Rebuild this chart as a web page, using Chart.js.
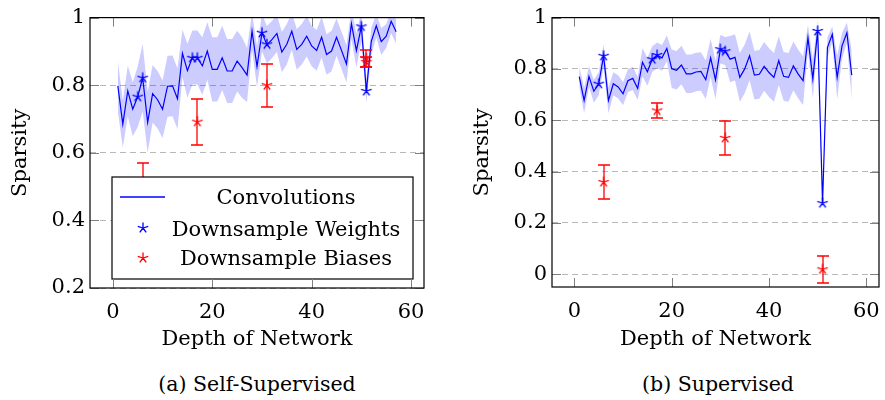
<!DOCTYPE html>
<html>
<head>
<meta charset="utf-8">
<script src="https://cdn.jsdelivr.net/npm/chart.js@4.4.1/dist/chart.umd.min.js"></script>
<style>
  body { margin: 0; background: #fff; width: 885px; height: 400px; position: relative; overflow: hidden; font-family: 'DejaVu Serif', serif; }
  canvas { position: absolute; top: 0; }
  #chartA { left: 0; }
  #chartB { left: 442px; }
  .caption { position: absolute; top: 372px; width: 240px; font-size: 20.5px; line-height: 24px; text-align: center; color: #000; }
</style>
</head>
<body>
<canvas id="chartA" width="442" height="360"></canvas>
<canvas id="chartB" width="443" height="360"></canvas>
<div class="caption" style="left:137px">(a) Self-Supervised</div>
<div class="caption" style="left:598px">(b) Supervised</div>
<script>
// layer index along the network
const depth = [1,2,3,4,5,6,7,8,9,10,11,12,13,14,15,16,17,18,19,20,21,22,23,24,25,26,27,28,29,30,
  31,32,33,34,35,36,37,38,39,40,41,42,43,44,45,46,47,48,49,50,51,52,53,54,55,56,57];

// (a) self-supervised: convolution sparsity and its spread
const convSelf = [0.798,0.685,0.783,0.729,0.766,0.822,0.690,0.775,0.757,0.729,0.797,0.798,0.760,0.894,0.843,
  0.882,0.882,0.857,0.901,0.847,0.847,0.881,0.842,0.842,0.871,0.852,0.830,0.960,0.855,0.955,
  0.920,0.935,0.953,0.898,0.921,0.960,0.906,0.921,0.945,0.916,0.903,0.942,0.891,0.901,0.942,
  0.903,0.863,0.982,0.902,0.974,0.783,0.930,0.976,0.929,0.945,0.989,0.958];
const spreadSelf = [0.075,0.07,0.075,0.08,0.09,0.1,0.09,0.085,0.085,0.085,0.09,0.09,0.09,0.07,0.08,
  0.08,0.08,0.085,0.085,0.095,0.095,0.095,0.095,0.095,0.09,0.09,0.08,0.055,0.06,0.055,
  0.055,0.055,0.055,0.06,0.06,0.055,0.06,0.06,0.06,0.06,0.06,0.06,0.06,0.06,0.055,
  0.055,0.055,0.045,0.05,0.045,0.035,0.04,0.035,0.04,0.035,0.035,0.035];

// (b) supervised
const convSup = [0.770,0.677,0.770,0.713,0.742,0.851,0.677,0.742,0.730,0.703,0.754,0.763,0.724,0.826,0.789,
  0.838,0.853,0.843,0.880,0.801,0.795,0.815,0.781,0.781,0.788,0.790,0.758,0.843,0.757,0.877,
  0.869,0.838,0.845,0.767,0.800,0.851,0.776,0.779,0.810,0.786,0.767,0.832,0.771,0.767,0.812,
  0.780,0.754,0.922,0.761,0.950,0.277,0.883,0.935,0.767,0.890,0.941,0.776];
const spreadSup = [0.04,0.05,0.04,0.045,0.045,0.045,0.05,0.045,0.045,0.045,0.045,0.045,0.045,0.055,0.055,
  0.05,0.05,0.05,0.05,0.075,0.075,0.075,0.075,0.075,0.075,0.075,0.075,0.075,0.075,0.055,
  0.055,0.09,0.09,0.095,0.095,0.095,0.095,0.095,0.095,0.095,0.095,0.095,0.095,0.095,0.095,
  0.095,0.095,0.05,0.075,0.04,0.02,0.04,0.03,0.085,0.05,0.04,0.095];

// downsample layers
const weightDepth = [5,6,16,17,30,31,50,51];
const weightSelf = [0.766,0.822,0.881,0.881,0.955,0.921,0.974,0.783];
const weightSup = [0.742,0.851,0.838,0.854,0.877,0.869,0.948,0.277];

const biasDepthSelf = [6,17,31,51,51];
const biasSelf = [0.50,0.692,0.80,0.879,0.869];
const biasSelfErr = [0.07,0.068,0.064,0.025,0.014];
const biasDepthSup = [6,17,31,51];
const biasSup = [0.359,0.638,0.531,0.019];
const biasSupErr = [0.066,0.03,0.067,0.053];

const xTicks = [0,20,40,60];
const yTicksSelf = [0.2,0.4,0.6,0.8,1];
const yTicksSup = [0,0.2,0.4,0.6,0.8,1];
const legendLabels = ['Convolutions','Downsample Weights','Downsample Biases'];

const BLUE = 'rgb(0,0,255)', RED = 'rgb(255,0,0)';

Chart.defaults.font.family = "'DejaVu Serif', serif";
Chart.defaults.font.size = 21;
Chart.defaults.color = '#000';

function makeStar(color) {
  const r = 5.5, c = document.createElement('canvas');
  c.width = c.height = 14;
  const g = c.getContext('2d');
  g.strokeStyle = color;
  g.lineWidth = 1.3;
  g.beginPath();
  for (let k = 0; k < 5; k++) {
    const a = -Math.PI / 2 + k * 2 * Math.PI / 5;
    g.moveTo(7, 7);
    g.lineTo(7 + r * Math.cos(a), 7 + r * Math.sin(a));
  }
  g.stroke();
  return c;
}
const blueStar = makeStar(BLUE);
const redStar = makeStar(RED);

const pts = (xs, ys) => xs.map((x, i) => ({ x, y: ys[i] }));

// vertical error bars with caps on the bias series
const errorBars = {
  id: 'errorBars',
  afterDatasetsDraw(chart) {
    const { ctx, scales: { x, y } } = chart;
    chart.data.datasets.forEach(ds => {
      if (!ds.errors) return;
      ctx.save();
      ctx.setLineDash([]);
      ctx.strokeStyle = RED;
      ctx.lineWidth = 1.3;
      ds.data.forEach((p, i) => {
        const px = Math.round(x.getPixelForValue(p.x));
        const top = Math.round(y.getPixelForValue(p.y + ds.errors[i]));
        const bot = Math.round(y.getPixelForValue(p.y - ds.errors[i]));
        ctx.beginPath();
        ctx.moveTo(px, top); ctx.lineTo(px, bot);
        ctx.moveTo(px - 6, top); ctx.lineTo(px + 6, top);
        ctx.moveTo(px - 6, bot); ctx.lineTo(px + 6, bot);
        ctx.stroke();
      });
      ctx.restore();
    });
  }
};

// pgfplots-like legend box in the lower right of panel (a)
const boxLegend = {
  id: 'boxLegend',
  afterDatasetsDraw(chart, args, opts) {
    if (!opts.show) return;
    const { ctx, chartArea: a } = chart;
    const x0 = a.left + 22, x1 = a.right - 11, y1 = a.bottom - 9, y0 = y1 - 102;
    ctx.save();
    ctx.setLineDash([]);
    ctx.fillStyle = '#fff';
    ctx.fillRect(x0, y0, x1 - x0, y1 - y0);
    ctx.strokeStyle = '#000';
    ctx.lineWidth = 1.2;
    ctx.strokeRect(x0, y0, x1 - x0, y1 - y0);
    ctx.strokeStyle = BLUE;
    ctx.lineWidth = 1.3;
    ctx.beginPath();
    ctx.moveTo(x0 + 8, y0 + 20); ctx.lineTo(x0 + 53, y0 + 20);
    ctx.stroke();
    ctx.drawImage(blueStar, x0 + 24, y0 + 44);
    ctx.drawImage(redStar, x0 + 24, y0 + 74);
    ctx.fillStyle = '#000';
    ctx.font = "21px 'DejaVu Serif', serif";
    ctx.textAlign = 'center';
    ctx.textBaseline = 'alphabetic';
    const base = [27, 59, 88];
    legendLabels.forEach((t, i) => ctx.fillText(t, x0 + 174, y0 + base[i]));
    ctx.restore();
  }
};

// axis box with inward tick marks on all four sides
const frame = {
  id: 'frame',
  afterDraw(chart) {
    const { ctx, chartArea: a, scales: { x, y } } = chart;
    const len = 9;
    ctx.save();
    ctx.setLineDash([]);
    ctx.strokeStyle = '#808080';
    ctx.lineWidth = 1;
    ctx.beginPath();
    x.ticks.forEach(t => {
      const px = Math.round(x.getPixelForValue(t.value)) + 0.5;
      ctx.moveTo(px, a.bottom); ctx.lineTo(px, a.bottom - len);
      ctx.moveTo(px, a.top); ctx.lineTo(px, a.top + len);
    });
    y.ticks.forEach(t => {
      const py = Math.round(y.getPixelForValue(t.value)) + 0.5;
      ctx.moveTo(a.left, py); ctx.lineTo(a.left + len, py);
      ctx.moveTo(a.right, py); ctx.lineTo(a.right - len, py);
    });
    ctx.stroke();
    ctx.strokeStyle = '#000';
    ctx.lineWidth = 1.2;
    ctx.strokeRect(a.left, a.top, a.right - a.left, a.bottom - a.top);
    ctx.restore();
  }
};

function makeChart(id, p) {
  const upper = p.conv.map((v, i) => v + p.spread[i]);
  const lower = p.conv.map((v, i) => v - p.spread[i]);
  return new Chart(document.getElementById(id), {
    type: 'line',
    data: {
      datasets: [
        { data: pts(depth, upper), borderWidth: 0, borderColor: 'rgba(0,0,0,0)', pointRadius: 0, fill: false, order: 5 },
        { data: pts(depth, lower), borderWidth: 0, borderColor: 'rgba(0,0,0,0)', pointRadius: 0,
          fill: '-1', backgroundColor: 'rgba(0,0,255,0.2)', order: 4 },
        { label: legendLabels[0], data: pts(depth, p.conv), borderColor: BLUE, borderWidth: 1.2,
          pointRadius: 0, tension: 0, fill: false, order: 2 },
        { label: legendLabels[1], data: pts(weightDepth, p.weights), showLine: false, borderColor: BLUE,
          pointStyle: blueStar, pointRadius: 5, order: 1 },
        { label: legendLabels[2], data: pts(p.biasX, p.bias), errors: p.biasErr, showLine: false, borderColor: RED,
          pointStyle: redStar, pointRadius: 5, order: 0 }
      ]
    },
    options: {
      responsive: false,
      animation: false,
      devicePixelRatio: 1,
      layout: { padding: p.pad },
      plugins: {
        legend: { display: false },
        tooltip: { enabled: false },
        boxLegend: { show: p.legend }
      },
      scales: {
        x: {
          type: 'linear', min: -4.6, max: 62.6,
          afterBuildTicks: s => { s.ticks = xTicks.map(v => ({ value: v })); },
          afterFit: s => { s.height = p.xHeight; },
          grid: { display: false },
          border: { display: false },
          ticks: { padding: 4, callback: v => String(v) },
          title: { display: true, text: 'Depth of Network', padding: { top: 0, bottom: 8 } }
        },
        y: {
          type: 'linear', min: p.yMin, max: 1,
          afterBuildTicks: s => { s.ticks = p.yTicks.map(v => ({ value: v })); },
          afterFit: s => { s.width = 82; },
          grid: { color: '#b8b8b8', lineWidth: 1, drawTicks: false },
          border: { display: false, dash: [6, 4] },
          ticks: { padding: 5, callback: v => String(v) },
          title: { display: true, text: 'Sparsity', padding: { top: 0, bottom: 0 } }
        }
      }
    },
    plugins: [errorBars, boxLegend, frame]
  });
}

makeChart('chartA', {
  conv: convSelf, spread: spreadSelf, weights: weightSelf,
  biasX: biasDepthSelf, bias: biasSelf, biasErr: biasSelfErr,
  yMin: 0.2, yTicks: yTicksSelf, legend: true,
  pad: { left: 8, right: 18, top: 16, bottom: 0 }, xHeight: 72
});
makeChart('chartB', {
  conv: convSup, spread: spreadSup, weights: weightSup,
  biasX: biasDepthSup, bias: biasSup, biasErr: biasSupErr,
  yMin: -0.05, yTicks: yTicksSup, legend: false,
  pad: { left: 28, right: 1, top: 16, bottom: 0 }, xHeight: 73
});
</script>
</body>
</html>
